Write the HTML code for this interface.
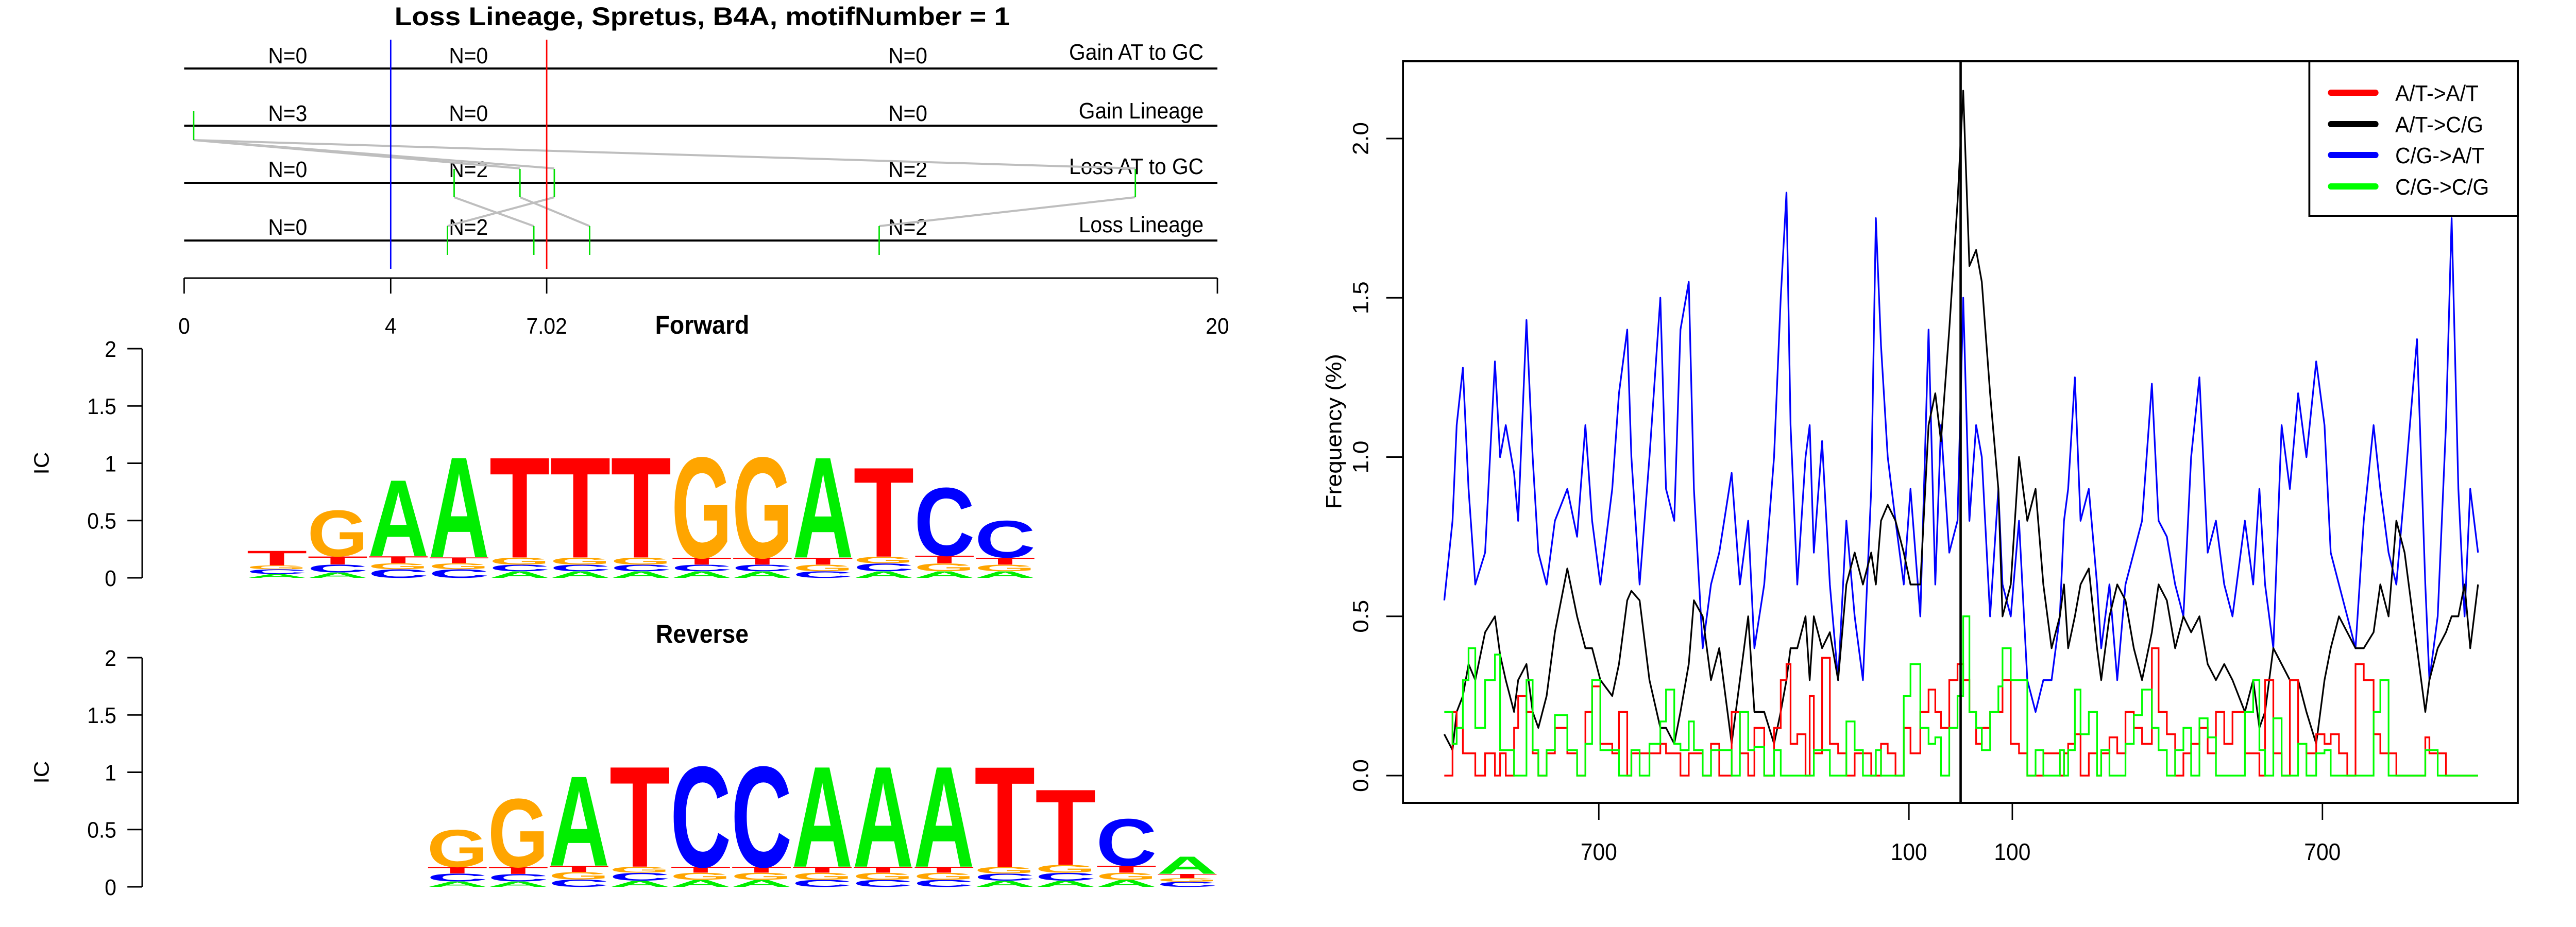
<!DOCTYPE html>
<html><head><meta charset="utf-8"><style>
html,body{margin:0;padding:0;background:#fff;overflow:hidden;width:100%;height:100%;}
svg{display:block;font-family:"Liberation Sans",sans-serif;width:100vw;height:100vh;}
</style></head><body>
<svg id="fig" xmlns="http://www.w3.org/2000/svg" viewBox="0 0 5400 1800" preserveAspectRatio="none">
<rect x="0" y="0" width="5400" height="1800" fill="#fff"/>
<g id="lineage">
<text x="1472" y="49" font-size="50" font-weight="bold" text-anchor="middle" textLength="1290" lengthAdjust="spacingAndGlyphs">Loss Lineage, Spretus, B4A, motifNumber = 1</text>
<g stroke="#000" stroke-width="4">
<line x1="386" y1="133" x2="2552" y2="133"/>
<line x1="386" y1="244" x2="2552" y2="244"/>
<line x1="386" y1="355" x2="2552" y2="355"/>
<line x1="386" y1="467" x2="2552" y2="467"/>
</g>
<g font-size="44" text-anchor="end">
<text x="2523" y="116">Gain AT to GC</text>
<text x="2523" y="230">Gain Lineage</text>
<text x="2523" y="338">Loss AT to GC</text>
<text x="2523" y="451">Loss Lineage</text>
</g>
<g font-size="44" text-anchor="middle">
<text x="603" y="123">N=0</text>
<text x="982" y="123">N=0</text>
<text x="1903" y="123">N=0</text>
<text x="603" y="235">N=3</text>
<text x="982" y="235">N=0</text>
<text x="1903" y="235">N=0</text>
<text x="603" y="344">N=0</text>
<text x="982" y="344">N=2</text>
<text x="1903" y="344">N=2</text>
<text x="603" y="456">N=0</text>
<text x="982" y="456">N=2</text>
<text x="1903" y="456">N=2</text>
</g>
<g stroke="#bebebe" stroke-width="4" fill="none">
<line x1="406" y1="272" x2="1090" y2="327"/>
<line x1="406" y1="272" x2="1162" y2="327"/>
<line x1="406" y1="272" x2="2380" y2="327"/>
<line x1="952" y1="383" x2="1119" y2="439"/>
<line x1="1090" y1="383" x2="1236" y2="439"/>
<line x1="1162" y1="383" x2="938" y2="439"/>
<line x1="2380" y1="383" x2="1843" y2="439"/>
</g>
<g stroke="#00e000" stroke-width="3">
<line x1="406" y1="216" x2="406" y2="272"/>
<line x1="952" y1="328" x2="952" y2="383"/>
<line x1="1090" y1="328" x2="1090" y2="383"/>
<line x1="1162" y1="328" x2="1162" y2="383"/>
<line x1="2380" y1="328" x2="2380" y2="383"/>
<line x1="938" y1="439" x2="938" y2="495"/>
<line x1="1119" y1="439" x2="1119" y2="495"/>
<line x1="1236" y1="439" x2="1236" y2="495"/>
<line x1="1843" y1="439" x2="1843" y2="495"/>
</g>
<line x1="819" y1="77" x2="819" y2="522" stroke="#0000ff" stroke-width="3"/>
<line x1="1146" y1="77" x2="1146" y2="522" stroke="#ff0000" stroke-width="3"/>
<g stroke="#000" stroke-width="3">
<line x1="386" y1="540" x2="2552" y2="540"/>
<line x1="386" y1="540" x2="386" y2="570"/>
<line x1="819" y1="540" x2="819" y2="570"/>
<line x1="1146" y1="540" x2="1146" y2="570"/>
<line x1="2552" y1="540" x2="2552" y2="570"/>
</g>
<g font-size="44" text-anchor="middle">
<text x="386" y="648">0</text>
<text x="819" y="648">4</text>
<text x="1146" y="648">7.02</text>
<text x="2552" y="648">20</text>
</g>
</g>
<text x="1472" y="648" font-size="50" font-weight="bold" text-anchor="middle">Forward</text>
<text x="1472" y="1248" font-size="50" font-weight="bold" text-anchor="middle">Reverse</text>
<g id="logoF"></g>
<g id="logoR"></g>
<g id="freq">
<rect x="2941" y="119" width="2337" height="1440" fill="none" stroke="#000" stroke-width="4"/>
<text transform="translate(2812,838) rotate(-90)" font-size="46" text-anchor="middle">Frequency (%)</text>
<g id="series"></g>
<line x1="4110" y1="119" x2="4110" y2="1559" stroke="#000" stroke-width="5"/>
<g id="axes"></g>
<g>
<rect x="4841" y="119" width="437" height="300" fill="#fff" stroke="#000" stroke-width="4"/>
<g stroke-width="12" stroke-linecap="round">
<line x1="4886" y1="180" x2="4980" y2="180" stroke="#ff0000"/>
<line x1="4886" y1="241" x2="4980" y2="241" stroke="#000000"/>
<line x1="4886" y1="301" x2="4980" y2="301" stroke="#0000ff"/>
<line x1="4886" y1="362" x2="4980" y2="362" stroke="#00ff00"/>
</g>
<g font-size="44">
<text x="5021" y="196">A/T-&gt;A/T</text>
<text x="5021" y="257">A/T-&gt;C/G</text>
<text x="5021" y="317">C/G-&gt;A/T</text>
<text x="5021" y="378">C/G-&gt;C/G</text>
</g>
</g>
</g>
</svg>
<script>
const positions = [-999,-983,-975,-963,-952,-939,-920,-901,-891,-880,
-864,-856,-840,-828,-817,-801,-785,-761,-742,-726,
-713,-697,-674,-661,-645,-637,-621,-602,-581,-570,
-554,-542,-526,-516,-499,-483,-467,-443,-427,-411,
-399,-380,-361,-348,-337,-329,-316,-300,-292,-284,
-268,-253,-237,-221,-205,-189,-173,-164,-154,-141,
-126,-110,-97,-78,-62,-49,-38,-22,-6,5,
17,30,41,57,73,81,97,113,129,145,
160,176,192,200,208,221,232,248,264,272,
288,303,319,335,351,370,383,399,415,431,
446,462,478,494,510,526,550,566,578,589,
605,621,637,653,669,688,704,716,732,748,
764,780,799,812,828,843,859,883,899,907,
923,939,950,963,975,986,1001];
const cgToAt = [0.55,0.8,1.1,1.28,0.9,0.6,0.7,1.3,1.0,1.1,
0.95,0.8,1.43,1.0,0.7,0.6,0.8,0.9,0.75,1.1,
0.8,0.6,0.9,1.2,1.4,1.0,0.6,1.0,1.5,0.9,
0.8,1.4,1.55,0.9,0.4,0.6,0.7,0.95,0.6,0.8,
0.4,0.6,1.0,1.5,1.83,1.1,0.6,1.0,1.1,0.7,
1.05,0.6,0.3,0.8,0.5,0.3,0.9,1.75,1.35,1.0,
0.8,0.6,0.9,0.5,1.4,0.6,1.1,0.7,0.8,1.5,
0.8,1.1,1.0,0.5,0.9,0.6,0.5,0.8,0.3,0.2,
0.3,0.3,0.5,0.8,0.9,1.25,0.8,0.9,0.6,0.4,
0.6,0.3,0.6,0.7,0.8,1.23,0.8,0.75,0.6,0.5,
1.0,1.25,0.7,0.8,0.6,0.5,0.8,0.6,0.9,0.6,
0.4,1.1,0.9,1.2,1.0,1.3,1.1,0.7,0.6,0.5,
0.4,0.8,1.1,0.9,0.7,0.6,0.9,1.37,0.6,0.3,
0.5,1.1,1.75,0.9,0.5,0.9,0.7];
const atToCg = [0.13,0.08,0.2,0.25,0.35,0.3,0.45,0.5,0.38,0.3,
0.2,0.3,0.35,0.2,0.15,0.25,0.45,0.65,0.5,0.4,
0.4,0.3,0.25,0.35,0.55,0.58,0.55,0.3,0.15,0.15,
0.1,0.2,0.35,0.55,0.5,0.3,0.4,0.1,0.3,0.5,
0.2,0.2,0.1,0.2,0.3,0.4,0.4,0.5,0.3,0.5,
0.4,0.45,0.3,0.6,0.7,0.6,0.7,0.6,0.8,0.85,
0.8,0.7,0.6,0.6,1.1,1.2,1.05,1.4,1.8,2.15,
1.6,1.65,1.55,1.2,0.9,0.5,0.6,1.0,0.8,0.9,
0.6,0.4,0.5,0.6,0.4,0.5,0.6,0.65,0.4,0.3,
0.5,0.6,0.55,0.4,0.3,0.45,0.6,0.55,0.4,0.5,
0.45,0.5,0.35,0.3,0.35,0.3,0.2,0.3,0.15,0.2,
0.4,0.35,0.3,0.3,0.2,0.1,0.3,0.4,0.5,0.45,
0.4,0.4,0.45,0.6,0.5,0.8,0.7,0.4,0.2,0.3,
0.4,0.45,0.5,0.5,0.6,0.4,0.6];
const atToAt = [0.0,0.2,0.15,0.07,0.07,0.0,0.07,0.0,0.07,0.0,
0.15,0.25,0.2,0.07,0.0,0.07,0.15,0.07,0.0,0.2,
0.28,0.1,0.07,0.2,0.0,0.07,0.07,0.07,0.1,0.07,
0.07,0.0,0.07,0.07,0.0,0.1,0.0,0.2,0.07,0.0,
0.15,0.0,0.15,0.3,0.35,0.1,0.13,0.0,0.25,0.07,
0.37,0.1,0.07,0.0,0.07,0.07,0.0,0.0,0.1,0.07,
0.0,0.15,0.07,0.2,0.27,0.2,0.15,0.3,0.35,0.3,
0.2,0.1,0.15,0.2,0.2,0.3,0.1,0.07,0.0,0.0,
0.07,0.07,0.0,0.07,0.1,0.13,0.0,0.07,0.0,0.07,
0.12,0.07,0.2,0.15,0.1,0.4,0.2,0.13,0.0,0.07,
0.1,0.15,0.07,0.2,0.1,0.2,0.07,0.07,0.0,0.3,
0.07,0.0,0.3,0.1,0.07,0.13,0.1,0.13,0.07,0.0,
0.35,0.3,0.13,0.07,0.07,0.0,0.0,0.0,0.12,0.07,
0.07,0.0,0.0,0.0,0.0,0.0,0.0];
const cgToCg = [0.2,0.1,0.15,0.3,0.4,0.15,0.3,0.38,0.08,0.08,
0.0,0.0,0.3,0.08,0.0,0.08,0.19,0.08,0.0,0.1,
0.3,0.08,0.08,0.0,0.0,0.08,0.0,0.1,0.17,0.27,
0.1,0.08,0.17,0.08,0.0,0.08,0.08,0.0,0.2,0.08,
0.09,0.0,0.08,0.0,0.0,0.0,0.0,0.0,0.0,0.08,
0.08,0.0,0.0,0.17,0.08,0.0,0.0,0.08,0.0,0.0,
0.0,0.25,0.35,0.15,0.1,0.12,0.0,0.15,0.25,0.5,
0.2,0.15,0.08,0.2,0.28,0.4,0.3,0.3,0.0,0.08,
0.0,0.0,0.08,0.0,0.08,0.27,0.13,0.2,0.0,0.08,
0.0,0.0,0.1,0.19,0.27,0.15,0.08,0.0,0.08,0.15,
0.0,0.18,0.12,0.0,0.0,0.0,0.2,0.3,0.08,0.0,
0.18,0.0,0.0,0.1,0.0,0.07,0.08,0.0,0.0,0.0,
0.0,0.0,0.2,0.3,0.0,0.0,0.0,0.0,0.08,0.08,
0.0,0.0,0.0,0.0,0.0,0.0,0.0];
const yTicks = [0, 0.5, 1, 1.5, 2];
const yTickLabels = ["0.0","0.5","1.0","1.5","2.0"];
const xTicks = [-700, -100, 100, 700];
const xTickLabels = ["700","100","100","700"];

const forwardColumns = [
 [["A",.034],["C",.041],["G",.034],["T",.131]],
 [["A",.048],["C",.069],["T",.072],["G",.412]],
 [["C",.076],["G",.052],["T",.062],["A",.684]],
 [["C",.076],["G",.052],["T",.052],["A",.900]],
 [["A",.058],["C",.058],["G",.062],["T",.900]],
 [["A",.058],["C",.058],["G",.062],["T",.900]],
 [["A",.058],["C",.058],["G",.062],["T",.900]],
 [["A",.058],["C",.058],["T",.062],["G",.900]],
 [["A",.058],["C",.058],["T",.062],["G",.900]],
 [["C",.058],["G",.058],["T",.062],["A",.900]],
 [["A",.058],["C",.069],["G",.058],["T",.801]],
 [["A",.058],["G",.069],["T",.069],["C",.608]],
 [["A",.058],["G",.058],["T",.062],["C",.330]]];
const reverseColumns = [
 [["A",.048],["C",.069],["T",.058],["G",.333]],
 [["A",.048],["C",.065],["T",.062],["G",.612]],
 [["C",.065],["G",.065],["T",.055],["A",.804]],
 [["A",.055],["C",.069],["G",.052],["T",.900]],
 [["A",.062],["G",.062],["T",.052],["C",.900]],
 [["A",.062],["G",.062],["T",.052],["C",.900]],
 [["C",.062],["G",.062],["T",.052],["A",.900]],
 [["C",.062],["G",.062],["T",.052],["A",.900]],
 [["C",.062],["G",.062],["T",.052],["A",.900]],
 [["A",.055],["C",.062],["G",.058],["T",.900]],
 [["A",.055],["C",.069],["G",.069],["T",.677]],
 [["A",.062],["G",.062],["T",.062],["C",.419]],
 [["C",.045],["G",.031],["T",.038],["A",.155]]];
const icTicks = [0, 0.5, 1, 1.5, 2];
const icTickLabels = ["0","0.5","1","1.5","2"];

const NS = "http://www.w3.org/2000/svg";
function mk(tag, attrs, parent){
  const e = document.createElementNS(NS, tag);
  for (const k in attrs) e.setAttribute(k, attrs[k]);
  parent.appendChild(e);
  return e;
}
function xScale(u){ return 4110 + u * 1.0835; }
function yScale(v){ return 1506 - v * 618.5; }

const series = document.getElementById("series");
function linePath(vals){
  let d = "";
  vals.forEach((v,i)=>{ d += (i? " L":"M") + xScale(positions[i]).toFixed(1) + " " + yScale(v).toFixed(1); });
  return d;
}
function stepPath(vals){
  let d = "M" + xScale(positions[0]).toFixed(1) + " " + yScale(vals[0]).toFixed(1);
  for (let i=1;i<vals.length;i++){
    d += " H" + xScale(positions[i]).toFixed(1) + " V" + yScale(vals[i]).toFixed(1);
  }
  return d;
}
const sBlue = mk("path", {d: linePath(cgToAt), fill:"none", stroke:"#0000ff", "stroke-width":3.5, "stroke-linejoin":"round"}, series);


const sBlack = mk("path", {d: linePath(atToCg), fill:"none", stroke:"#000", "stroke-width":3.5, "stroke-linejoin":"round"}, series);


const sRed = mk("path", {d: stepPath(atToAt), fill:"none", stroke:"#ff0000", "stroke-width":3.5}, series);


const sGreen = mk("path", {d: stepPath(cgToCg), fill:"none", stroke:"#00ff00", "stroke-width":3.5}, series);



const axes = document.getElementById("axes");
yTicks.forEach((t,i)=>{
  const y = yScale(t);
  const tk = mk("line", {x1:2941, y1:y, x2:2906, y2:y, stroke:"#000", "stroke-width":3}, axes);
  
  
  const lb = mk("text", {transform:`translate(2868,${y}) rotate(-90)`, "font-size":46, "text-anchor":"middle"}, axes);
  lb.textContent = yTickLabels[i];
  
  
});
xTicks.forEach((t,i)=>{
  const x = xScale(t);
  const tk = mk("line", {x1:x, y1:1559, x2:x, y2:1592, stroke:"#000", "stroke-width":3}, axes);
  
  
  const lb = mk("text", {x:x, y:1670, "font-size":46, "text-anchor":"middle"}, axes);
  lb.textContent = xTickLabels[i];
  
  
});

const letterColor = {A:"#00ee00", C:"#0000ff", G:"#ffa500", T:"#ff0000"};
const letterW = {A:72.2, C:72.2, G:77.8, T:61.1};
function drawLogo(g, cols, x0, colW, y0){
  const icScale = 222.5;
  const ax = mk("line", {x1:298, y1:y0, x2:298, y2:y0 - 2*icScale, stroke:"#000", "stroke-width":3}, g);
  
  
  icTicks.forEach((t,i)=>{
    const y = y0 - t*icScale;
    const tk = mk("line", {x1:298, y1:y, x2:267, y2:y, stroke:"#000", "stroke-width":3}, g);
    
    
    const lb = mk("text", {x:244, y:y+16, "font-size":44, "text-anchor":"end"}, g);
    lb.textContent = icTickLabels[i];
    
    
  });
  const yl = mk("text", {transform:`translate(102,${y0 - 1.0*icScale}) rotate(-90)`, "font-size":44, "text-anchor":"middle"}, g);
  yl.textContent = "IC";
  
  
  cols.forEach((col,ci)=>{
    let yb = y0;
    const x = x0 + ci*colW;
    col.forEach(([L,h])=>{
      const ph = h*icScale;
      const sx = colW / letterW[L], sy = ph / 71.6;
      const t = mk("text", {transform:`translate(${x.toFixed(1)},${yb.toFixed(1)}) scale(${sx.toFixed(4)},${sy.toFixed(4)})`, "font-size":100, "font-weight":"bold", fill:letterColor[L]}, g);
      t.textContent = L;
      
      
      yb -= ph;
    });
  });
}
drawLogo(document.getElementById("logoF"), forwardColumns, 517, 127.2, 1122);
drawLogo(document.getElementById("logoR"), reverseColumns, 895, 127.5, 1722);
</script>
</body></html>
